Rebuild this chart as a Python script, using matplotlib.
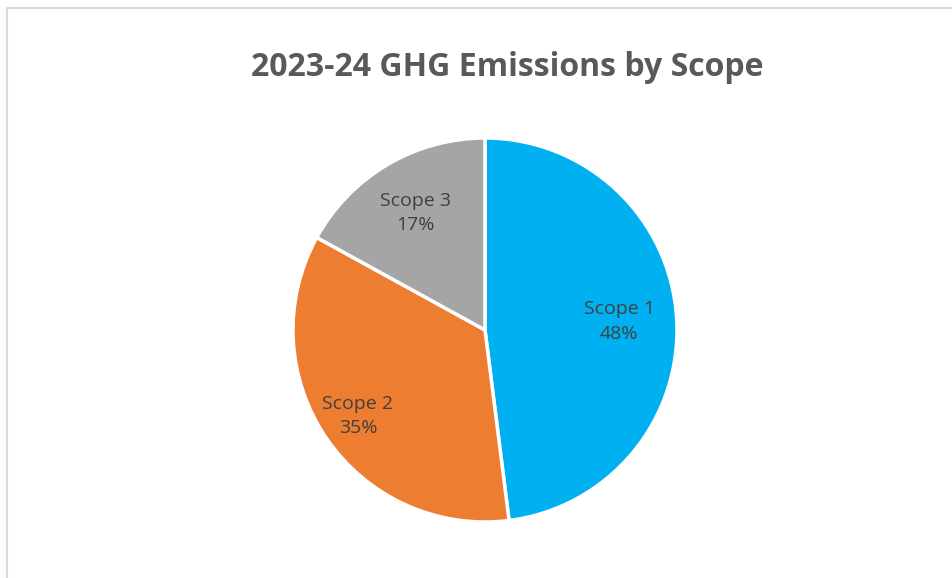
import matplotlib
matplotlib.use("Agg")
import matplotlib.pyplot as plt
from matplotlib.lines import Line2D
import numpy as np

# data
scopes = ["Scope 1", "Scope 2", "Scope 3"]
shares = [48, 35, 17]
title = "2023-24 GHG Emissions by Scope"

colors = ["#00B0F0", "#ED7D31", "#A5A5A5"]
label_dist = [0.70, 0.80, 0.71]

W, H = 953, 578
fig = plt.figure(figsize=(W / 100, H / 100), dpi=100, facecolor="white")
ax = fig.add_axes([0, 0, 1, 1])

cx, cy, r = 485, H - 330, 192
wedges, _ = ax.pie(shares, colors=colors, startangle=90, counterclock=False,
                   center=(cx, cy), radius=r, frame=True,
                   wedgeprops=dict(edgecolor="white", linewidth=2.5))
ax.set_xlim(0, W)
ax.set_ylim(0, H)
ax.set_aspect("equal")
ax.axis("off")

for w, name, val, d in zip(wedges, scopes, shares, label_dist):
    ang = np.deg2rad((w.theta1 + w.theta2) / 2)
    x = cx + d * r * np.cos(ang)
    y = cy + d * r * np.sin(ang)
    ax.text(x, y, f"{name}\n{val}%", ha="center", va="center",
            fontsize=14, color="#404040", family="Open Sans",
            linespacing=1.45)

fig.text(507 / W, 1 - 67 / H, title, ha="center", va="center",
         fontsize=23, fontweight="bold", color="#595959", family="Open Sans")

# chart area border (only top and left visible in the crop)
fig.add_artist(Line2D([7 / W, 1], [1 - 8 / H, 1 - 8 / H], color="#D9D9D9", lw=1.5,
                      transform=fig.transFigure))
fig.add_artist(Line2D([7 / W, 7 / W], [0, 1 - 8 / H], color="#D9D9D9", lw=1.5,
                      transform=fig.transFigure))

fig.savefig("out.png", dpi=100, facecolor="white")
